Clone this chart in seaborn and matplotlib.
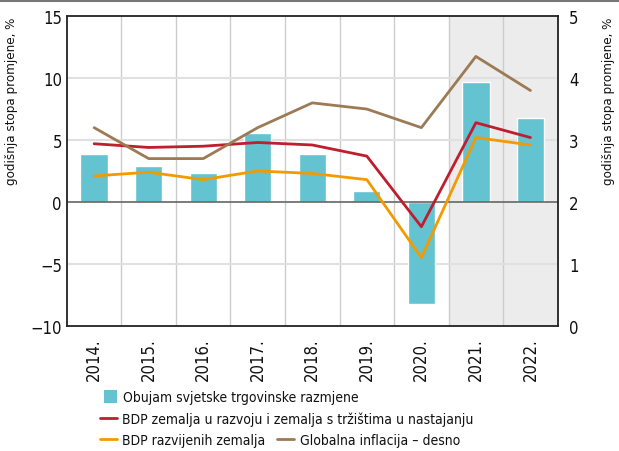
import numpy as np
import pandas as pd
import matplotlib
matplotlib.use('Agg')
import matplotlib.pyplot as plt
import seaborn as sns
from matplotlib.patches import Patch
from matplotlib.lines import Line2D

# data
years = ['2014.', '2015.', '2016.', '2017.', '2018.', '2019.', '2020.', '2021.', '2022.']
trade_volume = [3.9, 2.9, 2.3, 5.6, 3.9, 0.9, -8.2, 9.7, 6.8]
gdp_emde = [4.7, 4.4, 4.5, 4.8, 4.6, 3.7, -2.0, 6.4, 5.2]
gdp_advanced = [2.1, 2.4, 1.8, 2.5, 2.3, 1.8, -4.5, 5.2, 4.6]
inflation = [3.2, 2.7, 2.7, 3.2, 3.6, 3.5, 3.2, 4.35, 3.8]

lbl_trade = 'Obujam svjetske trgovinske razmjene'
lbl_emde = 'BDP zemalja u razvoju i zemalja s tržištima u nastajanju'
lbl_adv = 'BDP razvijenih zemalja'
lbl_infl = 'Globalna inflacija – desno'
ylab = 'godišnja stopa promjene, %'

colors = {'trade': '#63c3d1', 'emde': '#be1e2d', 'adv': '#f39a00', 'infl': '#9c7a55'}

df = pd.DataFrame({'year': years, 'trade': trade_volume, 'emde': gdp_emde,
                   'adv': gdp_advanced, 'infl': inflation})
df['pos'] = np.arange(len(df))

sns.set_style('white')
plt.rcParams['font.family'] = ['DejaVu Sans']
plt.rcParams['font.stretch'] = 'condensed'
plt.rcParams['axes.unicode_minus'] = True
plt.rcParams['text.color'] = '#111111'
plt.rcParams['xtick.color'] = '#111111'
plt.rcParams['ytick.color'] = '#111111'
plt.rcParams['axes.labelcolor'] = '#111111'

fig = plt.figure(figsize=(6.19, 4.52), dpi=100)
ax = fig.add_axes([0.108, 0.277, 0.793, 0.685])

# projection shading
ax.axvspan(6.5, 8.5, color='#ececec', zorder=0, lw=0)

sns.barplot(data=df, x='pos', y='trade', color=colors['trade'], width=0.5,
            saturation=1, native_scale=True, ax=ax, zorder=2)
sns.lineplot(data=df, x='pos', y='emde', color=colors['emde'], lw=2, ax=ax, zorder=3)
sns.lineplot(data=df, x='pos', y='adv', color=colors['adv'], lw=2, ax=ax, zorder=3)

ax.set_xlim(-0.5, 8.5)
ax.set_ylim(-10, 15)
ax.set_yticks(range(-10, 16, 5))
ax.set_xticks(df['pos'])
ax.set_xticklabels(years, rotation=90, fontsize=10.5)
ax.tick_params(axis='both', length=0, labelsize=12)
ax.tick_params(axis='x', pad=8)
for xb in np.arange(0.5, 8.5, 1):
    ax.axvline(xb, color='#cccccc', lw=1, zorder=1)
for yg in [-5, 5, 10]:
    ax.axhline(yg, color='#e0e0e0', lw=1.5, zorder=1)
ax.axhline(0, color='#666666', lw=1.2, zorder=2.5)
ax.set_xlabel('')
ax.set_ylabel(ylab, fontsize=9.5, labelpad=9, loc='top')
for sp in ax.spines.values():
    sp.set_color('#222222')
    sp.set_linewidth(1.3)

ax2 = ax.twinx()
sns.lineplot(data=df, x='pos', y='infl', color=colors['infl'], lw=2, ax=ax2, zorder=3)
ax2.set_ylim(0, 5)
ax2.set_yticks(range(0, 6))
ax2.tick_params(axis='y', length=0, labelsize=12, pad=8)
ax2.set_ylabel(ylab, fontsize=9.5, labelpad=17, loc='top')
ax2.set_xlim(-0.5, 8.5)
for sp in ax2.spines.values():
    sp.set_visible(False)

# top rule
fig.add_artist(Line2D([0, 1], [0.995, 0.995], transform=fig.transFigure,
                      color='#777777', lw=1.5))

# legend rows, placed one by one like in the original layout
leg_kw = dict(loc='center left', frameon=False, fontsize=10, handletextpad=0.4,
              borderpad=0, borderaxespad=0)
rows = [
    (Patch(facecolor=colors['trade'], edgecolor='none'), lbl_trade, 0.168, 0.1195, 0.95, 1.1),
    (Line2D([], [], color=colors['emde'], lw=2), lbl_emde, 0.1616, 0.0708, 1.2, 0.7),
    (Line2D([], [], color=colors['adv'], lw=2), lbl_adv, 0.1616, 0.0243, 1.2, 0.7),
    (Line2D([], [], color=colors['infl'], lw=2), lbl_infl, 0.448, 0.0243, 1.2, 0.7),
]
for handle, label, lx, ly, hl, hh in rows:
    fig.legend([handle], [label], bbox_to_anchor=(lx, ly), handlelength=hl,
               handleheight=hh, **leg_kw)

fig.savefig('out.png', dpi=100)
